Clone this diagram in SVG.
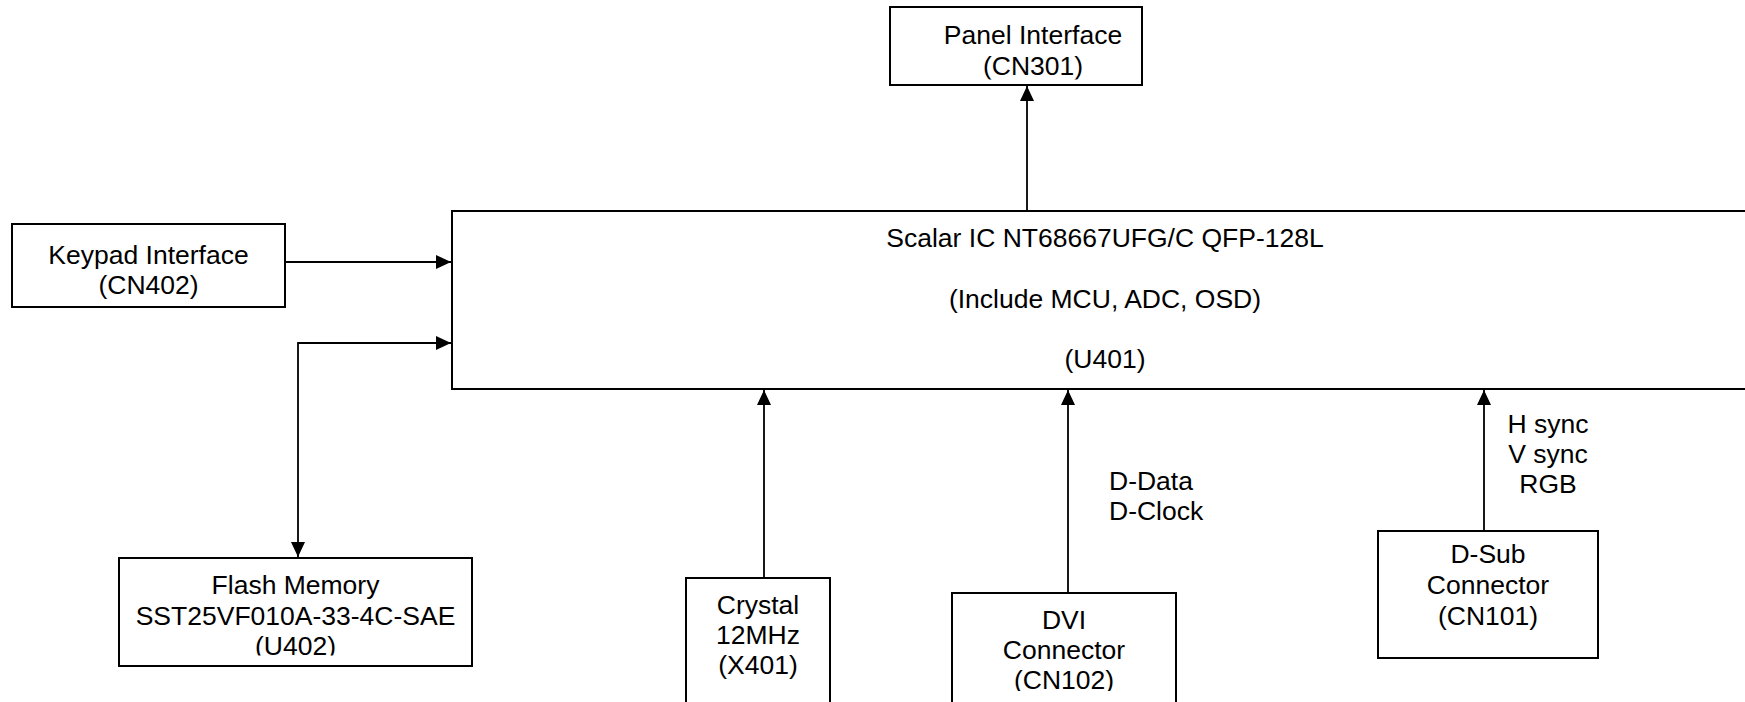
<svg xmlns="http://www.w3.org/2000/svg" width="1745" height="702" viewBox="0 0 1745 702">
<style>
.box{fill:#fff;stroke:#000;stroke-width:2}
.t{font-family:"Liberation Sans",Arial,sans-serif;font-size:26.5px;fill:#000;text-anchor:middle}
.l{text-anchor:start}
.c{fill:none;stroke:#000;stroke-width:1.8}
</style>
<defs>
<marker id="ah" markerUnits="userSpaceOnUse" markerWidth="16" markerHeight="14" refX="15" refY="7" orient="auto-start-reverse" viewBox="0 0 16 14">
<path d="M0,0 L15,7 L0,14 z" fill="#000"/>
</marker>
<clipPath id="cpPanel"><rect x="890" y="7" width="252" height="72.5"/></clipPath>
<clipPath id="cpFlash"><rect x="119" y="558" width="353" height="97.5"/></clipPath>
<clipPath id="cpDvi"><rect x="952" y="593" width="224" height="98"/></clipPath>
</defs>
<rect width="1745" height="702" fill="#fff"/>
<g id="connectors">
<line class="c" x1="1027" y1="211" x2="1027" y2="86" marker-end="url(#ah)"/>
<line class="c" x1="285" y1="262" x2="451" y2="262" marker-end="url(#ah)"/>
<polyline class="c" points="298,557 298,343 451,343" marker-start="url(#ah)" marker-end="url(#ah)"/>
<line class="c" x1="764" y1="578" x2="764" y2="390" marker-end="url(#ah)"/>
<line class="c" x1="1068" y1="593" x2="1068" y2="390" marker-end="url(#ah)"/>
<line class="c" x1="1484" y1="531" x2="1484" y2="390" marker-end="url(#ah)"/>
<text class="t l" x="1109" y="490">D-Data</text>
<text class="t l" x="1109" y="520">D-Clock</text>
<text class="t" x="1548" y="433">H sync</text>
<text class="t" x="1548" y="463">V sync</text>
<text class="t" x="1548" y="493">RGB</text>
</g>
<g id="panel">
<rect class="box" x="890" y="7" width="252" height="78"/>
<g clip-path="url(#cpPanel)">
<text class="t" x="1033" y="44">Panel Interface</text>
<text class="t" x="1033" y="74.5">(CN301)</text>
</g>
</g>
<g id="scalar">
<rect class="box" x="452" y="211" width="1320" height="178"/>
<text class="t" x="1105" y="247">Scalar IC NT68667UFG/C QFP-128L</text>
<text class="t" x="1105" y="308">(Include MCU, ADC, OSD)</text>
<text class="t" x="1105" y="368">(U401)</text>
</g>
<g id="keypad">
<rect class="box" x="12" y="224" width="273" height="83"/>
<text class="t" x="148.5" y="264">Keypad Interface</text>
<text class="t" x="148.5" y="294">(CN402)</text>
</g>
<g id="flash">
<rect class="box" x="119" y="558" width="353" height="108"/>
<g clip-path="url(#cpFlash)">
<text class="t" x="295.5" y="594">Flash Memory</text>
<text class="t" x="295.5" y="624.5">SST25VF010A-33-4C-SAE</text>
<text class="t" x="295.5" y="655">(U402)</text>
</g>
</g>
<g id="crystal">
<rect class="box" x="686" y="578" width="144" height="150"/>
<text class="t" x="758" y="614">Crystal</text>
<text class="t" x="758" y="644">12MHz</text>
<text class="t" x="758" y="674">(X401)</text>
</g>
<g id="dvi">
<rect class="box" x="952" y="593" width="224" height="130"/>
<g clip-path="url(#cpDvi)">
<text class="t" x="1064" y="629">DVI</text>
<text class="t" x="1064" y="659">Connector</text>
<text class="t" x="1064" y="689">(CN102)</text>
</g>
</g>
<g id="dsub">
<rect class="box" x="1378" y="531" width="220" height="127"/>
<text class="t" x="1488" y="563">D-Sub</text>
<text class="t" x="1488" y="594">Connector</text>
<text class="t" x="1488" y="625">(CN101)</text>
</g>
</svg>
